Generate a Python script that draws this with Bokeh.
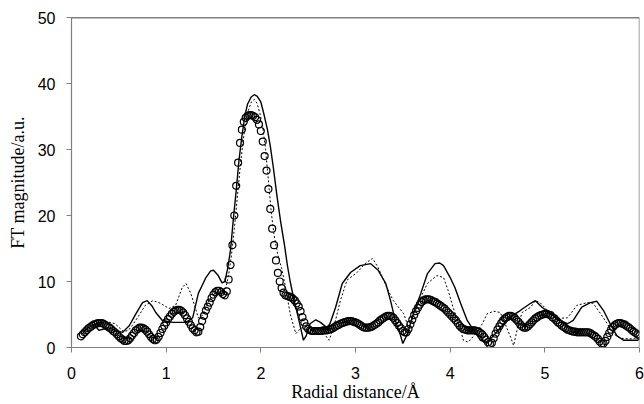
from bokeh.plotting import figure
from bokeh.models import Range1d, FixedTicker, Span
from bokeh.embed import file_html
from bokeh.resources import INLINE

# ---- data ----
# open circles: sampled every 0.02 Å from 0.10 to 6.00
circ_x0 = 0.10
circ_step = 0.02
circ_y = [
    1.7, 2.0, 2.3, 2.6, 2.9, 3.1, 3.3, 3.5, 3.6, 3.7,
    3.7, 3.7, 3.6, 3.4, 3.2, 3.0, 2.8, 2.5, 2.3, 2.0,
    1.7, 1.4, 1.2, 1.0, 1.0, 1.1, 1.4, 1.8, 2.2, 2.6,
    2.8, 3.0, 3.0, 2.9, 2.7, 2.4, 2.0, 1.6, 1.3, 1.1,
    1.2, 1.6, 2.2, 2.8, 3.3, 3.8, 4.3, 4.7, 5.1, 5.4,
    5.6, 5.7, 5.7, 5.6, 5.3, 4.9, 4.4, 3.9, 3.4, 2.9,
    2.6, 2.3, 2.4, 3.1, 4.0, 4.8, 5.6, 6.2, 6.8, 7.5,
    8.0, 8.4, 8.6, 8.6, 8.4, 8.1, 7.9, 8.5, 10.3, 12.5,
    15.5, 20.0, 24.5, 28.0, 31.0, 33.0, 34.2, 34.8, 35.1, 35.2,
    35.2, 35.1, 34.9, 34.5, 33.8, 32.8, 31.2, 29.0, 26.8, 24.0,
    21.0, 18.0, 15.5, 13.2, 11.3, 10.0, 9.0, 8.3, 7.9, 7.8,
    7.7, 7.6, 7.4, 7.1, 6.7, 6.2, 5.5, 4.6, 3.8, 3.2,
    2.8, 2.6, 2.5, 2.5, 2.5, 2.5, 2.5, 2.5, 2.6, 2.6,
    2.6, 2.7, 2.8, 2.9, 3.1, 3.3, 3.4, 3.6, 3.7, 3.8,
    3.9, 4.0, 4.0, 4.0, 3.9, 3.8, 3.7, 3.5, 3.3, 3.1,
    3.0, 3.0, 3.0, 3.1, 3.2, 3.4, 3.6, 3.8, 4.1, 4.3,
    4.5, 4.7, 4.8, 4.8, 4.7, 4.5, 4.1, 3.7, 3.3, 2.9,
    2.5, 2.3, 2.3, 2.8, 3.5, 4.2, 4.9, 5.5, 6.0, 6.5,
    6.9, 7.1, 7.3, 7.3, 7.3, 7.2, 7.0, 6.9, 6.7, 6.5,
    6.3, 6.1, 5.9, 5.6, 5.3, 5.0, 4.7, 4.4, 4.1, 3.7,
    3.3, 3.0, 2.8, 2.7, 2.6, 2.6, 2.6, 2.6, 2.6, 2.5,
    2.4, 2.2, 2.0, 1.6, 1.2, 0.8, 0.5, 0.7, 1.4, 2.1,
    2.7, 3.2, 3.7, 4.1, 4.4, 4.6, 4.8, 4.8, 4.7, 4.5,
    4.2, 3.9, 3.5, 3.2, 3.0, 3.0, 3.2, 3.5, 3.8, 4.1,
    4.4, 4.6, 4.8, 4.9, 5.0, 5.1, 5.1, 5.0, 4.9, 4.6,
    4.4, 4.1, 3.8, 3.6, 3.3, 3.1, 2.9, 2.7, 2.6, 2.5,
    2.4, 2.4, 2.3, 2.3, 2.3, 2.3, 2.3, 2.3, 2.3, 2.2,
    2.0, 1.8, 1.6, 1.3, 0.9, 0.6, 0.6, 1.0, 1.6, 2.2,
    2.7, 3.1, 3.4, 3.6, 3.7, 3.7, 3.6, 3.5, 3.3, 3.1,
    2.9, 2.6, 2.4, 2.2, 2.0, 1.8,
]
circ_x = [round(circ_x0 + circ_step * i, 2) for i in range(len(circ_y))]

# solid line
solid_x = [0.12, 0.18, 0.24, 0.29, 0.34, 0.39, 0.46, 0.54, 0.61, 0.68, 0.75, 0.80,
           0.85, 0.89, 0.96, 1.07, 1.21, 1.28, 1.34, 1.42, 1.47, 1.50, 1.55, 1.59,
           1.62, 1.65, 1.68, 1.71, 1.74, 1.77, 1.80, 1.83, 1.86, 1.90, 1.93, 1.96,
           2.00, 2.03, 2.07, 2.10, 2.13, 2.17, 2.21, 2.25, 2.28, 2.31, 2.35, 2.38,
           2.42, 2.45, 2.48, 2.52, 2.58, 2.63, 2.70, 2.73, 2.79, 2.86, 2.95, 3.05,
           3.16, 3.24, 3.32, 3.37, 3.42, 3.47, 3.50, 3.55, 3.61, 3.69, 3.76, 3.84,
           3.89, 3.93, 4.00, 4.05, 4.11, 4.18, 4.25, 4.32, 4.38, 4.44, 4.53, 4.62,
           4.74, 4.85, 4.90, 4.97, 5.06, 5.16, 5.24, 5.30, 5.39, 5.48, 5.55, 5.62,
           5.69, 5.76, 5.83, 5.98, 6.00]
solid_y = [2.3, 3.0, 3.4, 2.6, 2.8, 3.0, 2.6, 2.3, 3.3, 5.1, 6.8, 7.1,
           6.3, 5.3, 4.1, 3.8, 3.8, 4.5, 8.2, 10.6, 11.6, 11.7, 10.9, 9.8,
           10.0, 12.0, 14.8, 19.5, 23.8, 28.5, 32.0, 35.0, 36.9, 38.0, 38.3, 38.1,
           37.2, 35.5, 33.0, 30.5, 27.5, 23.0, 19.0, 15.5, 12.5, 10.0, 7.2, 5.5,
           3.0, 1.1, 1.8, 3.6, 4.2, 3.8, 3.0, 3.6, 6.1, 9.7, 11.4, 12.4,
           12.7, 11.7, 9.7, 7.1, 4.1, 2.1, 0.6, 2.1, 5.1, 8.2, 11.2, 12.7,
           12.8, 12.4, 10.6, 9.1, 6.7, 4.1, 2.6, 1.1, 0.8, 1.5, 3.0, 4.5,
           5.6, 6.7, 7.1, 6.1, 5.1, 4.1, 3.6, 4.1, 6.1, 6.8, 7.0, 5.6,
           3.6, 1.8, 1.1, 1.1, 1.3]

# dotted line
dot_x = [0.13, 0.20, 0.29, 0.38, 0.46, 0.55, 0.60, 0.64, 0.71, 0.78, 0.86, 0.94,
         1.03, 1.10, 1.17, 1.21, 1.26, 1.31, 1.34, 1.38, 1.45, 1.52, 1.59, 1.63,
         1.66, 1.69, 1.72, 1.75, 1.78, 1.81, 1.84, 1.87, 1.90, 1.93, 1.96, 1.99,
         2.02, 2.05, 2.08, 2.11, 2.14, 2.18, 2.22, 2.26, 2.31, 2.37, 2.42, 2.49,
         2.56, 2.66, 2.72, 2.77, 2.84, 2.91, 3.02, 3.10, 3.18, 3.24, 3.33, 3.40,
         3.51, 3.56, 3.62, 3.69, 3.76, 3.86, 3.93, 3.98, 4.03, 4.09, 4.14, 4.19,
         4.27, 4.34, 4.39, 4.46, 4.53, 4.58, 4.64, 4.67, 4.72, 4.76, 4.85, 4.90,
         4.95, 5.03, 5.13, 5.24, 5.34, 5.45, 5.51, 5.59, 5.66, 5.72, 5.80, 5.90,
         6.00]
dot_y = [2.4, 3.3, 3.8, 3.9, 3.6, 2.4, 2.6, 3.3, 4.8, 6.4, 7.1, 6.7,
         5.9, 6.4, 9.1, 9.7, 8.2, 5.9, 4.5, 4.8, 7.1, 8.3, 8.2, 9.0,
         11.0, 14.0, 18.0, 22.5, 27.0, 31.0, 34.0, 36.0, 37.2, 37.6, 37.0, 35.5,
         33.5, 30.0, 25.3, 20.5, 17.0, 14.0, 12.0, 9.2, 5.1, 2.1, 2.9, 3.2,
         3.0, 2.3, 1.1, 3.0, 7.1, 10.2, 11.4, 12.7, 13.5, 12.1, 9.1, 7.1,
         5.1, 3.0, 5.0, 7.6, 9.7, 10.9, 10.6, 8.6, 6.1, 3.6, 1.1, 0.8,
         2.1, 3.6, 5.1, 5.5, 5.3, 3.6, 1.5, 0.3, 3.5, 5.3, 6.1, 7.1,
         6.8, 5.6, 4.4, 4.5, 6.4, 6.8, 6.7, 5.1, 3.6, 2.1, 1.4, 1.3,
         1.5]

x_ticks = [0, 1, 2, 3, 4, 5, 6]
y_ticks = [0, 10, 20, 30, 40, 50]

p = figure(width=644, height=404, output_backend="svg", toolbar_location=None,
           x_range=Range1d(0, 6), y_range=Range1d(0, 50),
           min_border_left=71, min_border_right=5, min_border_top=17, min_border_bottom=57)
p.background_fill_color = "white"
p.border_fill_color = "white"
p.outline_line_color = None
p.xgrid.visible = False
p.ygrid.visible = False

p.line(dot_x, dot_y, line_color="black", line_width=1.0, line_dash="2 2")
p.line(solid_x, solid_y, line_color="black", line_width=1.4)
p.scatter(circ_x, circ_y, marker="circle", size=7, fill_color=None,
          line_color="black", line_width=1.2)

p.add_layout(Span(location=50, dimension="width", line_color="black", line_width=1.5))
p.add_layout(Span(location=6, dimension="height", line_color="#808080", line_width=1.5))

for ax in (p.xaxis[0], p.yaxis[0]):
    ax.axis_line_color = "#808080"
    ax.axis_line_width = 1.2
    ax.major_tick_line_color = "#808080"
    ax.major_tick_out = 5
    ax.major_tick_in = 0
    ax.minor_tick_line_color = None
    ax.major_label_text_font = "Liberation Sans"
    ax.major_label_text_font_size = "16px"
    ax.major_label_text_color = "black"
    ax.axis_label_text_font = "Liberation Serif"
    ax.axis_label_text_font_size = "18px"
    ax.axis_label_text_font_style = "normal"
    ax.axis_label_text_color = "black"

p.xaxis.ticker = FixedTicker(ticks=x_ticks)
p.yaxis.ticker = FixedTicker(ticks=y_ticks)
p.xaxis.axis_label = "Radial distance/Å"
p.yaxis.axis_label = "FT magnitude/a.u."
p.xaxis.major_label_standoff = 14
p.yaxis.major_label_standoff = 11
p.xaxis.axis_label_standoff = 0
p.yaxis.axis_label_standoff = 7

open("out.html", "w").write(file_html(p, INLINE))
